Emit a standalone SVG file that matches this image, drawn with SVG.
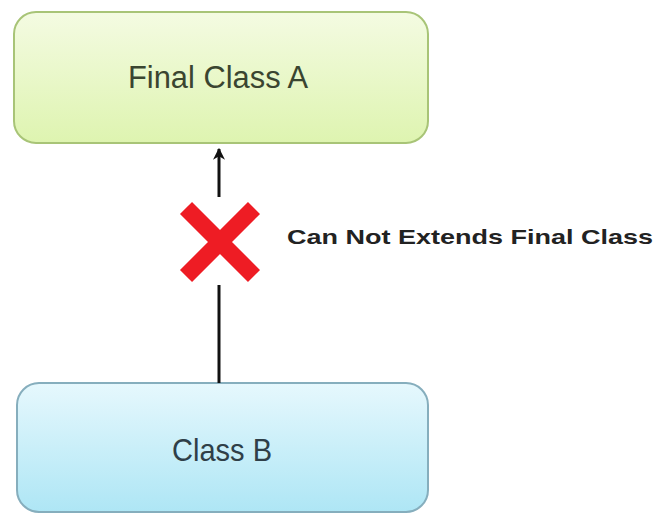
<svg xmlns="http://www.w3.org/2000/svg" width="659" height="516" viewBox="0 0 659 516">
<defs>
<linearGradient id="gA" x1="0" y1="0" x2="0" y2="1"><stop offset="0" stop-color="#f4fbe2"/><stop offset="1" stop-color="#def4b0"/></linearGradient>
<linearGradient id="gB" x1="0" y1="0" x2="0" y2="1"><stop offset="0" stop-color="#e6f8fd"/><stop offset="1" stop-color="#aee6f5"/></linearGradient>
<marker id="ah" markerWidth="12" markerHeight="12" refX="9" refY="5" orient="auto" markerUnits="userSpaceOnUse" viewBox="0 0 10 10"><path d="M0,0 L10,5 L0,10 L3,5 Z" fill="#111"/></marker>
</defs>
<style>
.lbl{font-family:"Liberation Sans",Arial,sans-serif;text-anchor:middle}
.conn{stroke:#111;stroke-width:3;fill:none}
</style>
<rect width="659" height="516" fill="#fff"/>
<g id="nodeA">
<rect x="14" y="12" width="414" height="131" rx="22" fill="url(#gA)" stroke="#a8c477" stroke-width="2"/>
<text class="lbl" x="218" y="88" font-size="31" textLength="180" lengthAdjust="spacingAndGlyphs" fill="#3a4530">Final Class A</text>
</g>
<g id="nodeB">
<rect x="17" y="383" width="411" height="129" rx="22" fill="url(#gB)" stroke="#86aebd" stroke-width="2"/>
<text class="lbl" x="222" y="461" font-size="32" textLength="100" lengthAdjust="spacingAndGlyphs" fill="#2f3f48">Class B</text>
</g>
<g id="connectors">
<line class="conn" x1="219" y1="197" x2="219" y2="149" marker-end="url(#ah)"/>
<line class="conn" x1="219" y1="285" x2="219" y2="383"/>
</g>
<g id="cross">
<path d="M186,208 L254,276 M254,208 L186,276" stroke="#ee1c24" stroke-width="17" stroke-linecap="butt"/>
</g>
<text x="287" y="244" font-family="'Liberation Sans',Arial,sans-serif" font-weight="bold" font-size="21" fill="#222" textLength="366" lengthAdjust="spacingAndGlyphs">Can Not Extends Final Class</text>
</svg>
